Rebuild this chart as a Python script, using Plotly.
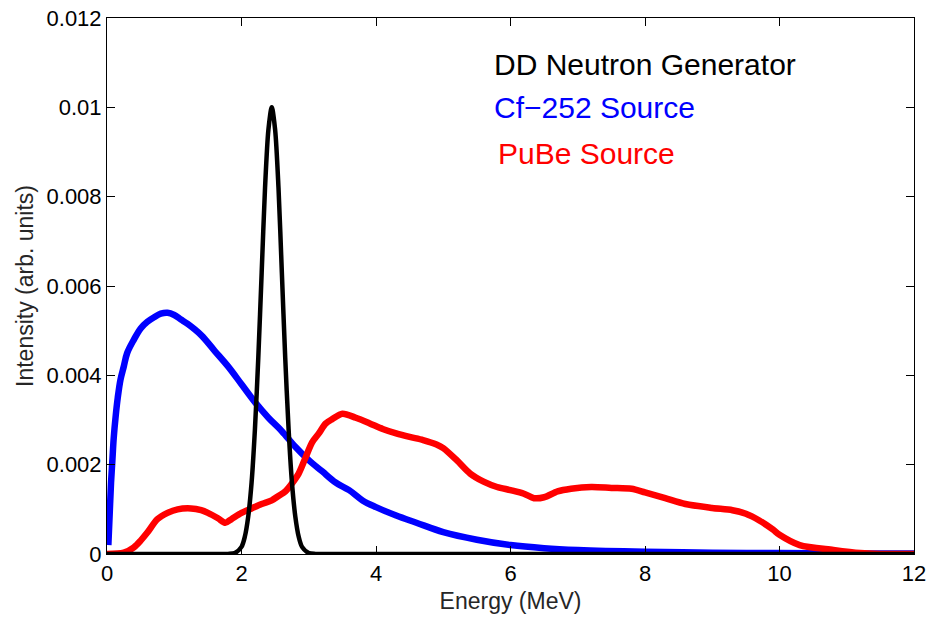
import plotly.graph_objects as go

# Cf-252 source spectrum
cf_energy = [0.02, 0.04, 0.06, 0.08, 0.1, 0.13, 0.16, 0.2, 0.25, 0.3, 0.4, 0.5, 0.6, 0.7,
             0.8, 0.9, 1.0, 1.1, 1.2, 1.4, 1.6, 1.8, 2.0, 2.2, 2.4, 2.6, 2.8, 3.0, 3.2,
             3.4, 3.6, 3.8, 4.0, 4.3, 4.6, 5.0, 5.5, 6.0, 6.5, 7.0, 8.0, 9.0, 10.0, 11.0,
             12.0]
cf_intensity = [0.0002, 0.0009, 0.0016, 0.0021, 0.0026, 0.0031, 0.0035, 0.0039, 0.0042,
                0.0045, 0.0048, 0.00505, 0.0052, 0.0053, 0.00538, 0.0054, 0.00535,
                0.00525, 0.00515, 0.0049, 0.00455, 0.0042, 0.0038, 0.0034, 0.00305,
                0.00275, 0.0024, 0.0021, 0.00185, 0.0016, 0.00143, 0.0012, 0.00105,
                0.00086, 0.0007, 0.00049, 0.00032, 0.0002, 0.00013, 0.00009, 0.00005,
                0.00003, 0.00002, 0.00001, 0.00001]

# PuBe source spectrum
pube_energy = [0, 0.25, 0.4, 0.5, 0.6, 0.75, 0.9, 1.05, 1.25, 1.4, 1.5, 1.65, 1.76,
               1.85, 2.0, 2.15, 2.3, 2.45, 2.55, 2.65, 2.75, 2.85, 2.95, 3.05, 3.15,
               3.25, 3.35, 3.5, 3.7, 3.9, 4.1, 4.3, 4.5, 4.7, 4.9, 5.0, 5.2, 5.4, 5.6,
               5.8, 6.0, 6.2, 6.35, 6.5, 6.7, 6.9, 7.2, 7.5, 7.8, 8.0, 8.3, 8.6, 9.0,
               9.3, 9.5, 9.7, 9.9, 10.0, 10.3, 10.8, 11.2, 11.5, 12]
pube_intensity = [0, 0.00003, 0.00015, 0.0003, 0.00048, 0.00078, 0.00092, 0.001,
                  0.00102, 0.00098, 0.00092, 0.0008, 0.0007, 0.00078, 0.00092, 0.00102,
                  0.00112, 0.0012, 0.0013, 0.0014, 0.00158, 0.0018, 0.00215, 0.0025,
                  0.0027, 0.00292, 0.00302, 0.00314, 0.00305, 0.00293, 0.0028, 0.0027,
                  0.00262, 0.00255, 0.00245, 0.00237, 0.0021, 0.0018, 0.00162, 0.0015,
                  0.00143, 0.00135, 0.00125, 0.00127, 0.0014, 0.00146, 0.0015, 0.00148,
                  0.00146, 0.00138, 0.00125, 0.00112, 0.00103, 0.00098, 0.0009,
                  0.00075, 0.00055, 0.00043, 0.0002, 0.00009, 0.00002, 0.0, 0]

# DD neutron generator
dd_energy = [0, 1.7, 1.8, 1.9, 2.0, 2.05, 2.1, 2.15, 2.2, 2.25, 2.3, 2.35, 2.4, 2.45,
             2.5, 2.55, 2.6, 2.65, 2.7, 2.75, 2.8, 2.85, 2.9, 3.0, 3.1, 3.2, 12]
dd_intensity = [0, 0, 0.000002, 0.000022, 0.00016, 0.00039, 0.00084, 0.0016, 0.0028,
                0.0044, 0.0063, 0.0082, 0.0095, 0.01, 0.0095, 0.0082, 0.0063, 0.0044,
                0.0028, 0.0016, 0.00084, 0.00039, 0.00016, 0.000022, 0.000002, 0, 0]

x_ticks = [0, 2, 4, 6, 8, 10, 12]
y_ticks = [0, 0.002, 0.004, 0.006, 0.008, 0.01, 0.012]
y_tick_text = ["0", "0.002", "0.004", "0.006", "0.008", "0.01", "0.012"]

FONT = "Liberation Sans, Arial, Helvetica, sans-serif"

fig = go.Figure()
fig.add_trace(go.Scatter(x=cf_energy, y=cf_intensity, mode="lines",
                         line=dict(color="#0000ff", width=6.5, shape="spline", smoothing=1.0),
                         name="Cf-252 Source"))
fig.add_trace(go.Scatter(x=pube_energy, y=pube_intensity, mode="lines",
                         line=dict(color="#ff0000", width=6.5, shape="spline", smoothing=0.8),
                         name="PuBe Source"))
fig.add_trace(go.Scatter(x=dd_energy, y=dd_intensity, mode="lines",
                         line=dict(color="#000000", width=4.5, shape="spline", smoothing=0.8),
                         name="DD Neutron Generator"))

fig.add_annotation(x=5.72, y=0.01095, text="DD Neutron Generator", showarrow=False,
                   xanchor="left", yanchor="middle",
                   font=dict(family=FONT, size=30, color="#000000"))
fig.add_annotation(x=5.72, y=0.01000, text="Cf\u2212252 Source", showarrow=False,
                   xanchor="left", yanchor="middle",
                   font=dict(family=FONT, size=30, color="#0000ff"))
fig.add_annotation(x=5.78, y=0.00896, text="PuBe Source", showarrow=False,
                   xanchor="left", yanchor="middle",
                   font=dict(family=FONT, size=30, color="#ff0000"))

axis_common = dict(showline=True, linecolor="black", linewidth=1, mirror="ticks",
                   ticks="inside", ticklen=8, tickcolor="black", tickwidth=1,
                   showgrid=False, zeroline=False, automargin=False,
                   ticklabeloverflow="allow",
                   tickfont=dict(family=FONT, size=22, color="black"))

fig.update_xaxes(range=[0, 12], tickvals=x_ticks,
                 title=dict(text="Energy (MeV)", standoff=7,
                            font=dict(family=FONT, size=23, color="#262626")),
                 **axis_common)
fig.update_yaxes(range=[0, 0.012], tickvals=y_ticks, ticktext=y_tick_text,
                 title=dict(text="Intensity (arb. units)", standoff=6,
                            font=dict(family=FONT, size=23, color="#262626")),
                 **axis_common)

fig.update_layout(width=932, height=619, margin=dict(l=107, r=18, t=18, b=65),
                  paper_bgcolor="white", plot_bgcolor="white", showlegend=False,
                  font=dict(family=FONT))

# remove the default page margin so the figure fills the window exactly
fig.write_html("out.html",
               config={"displayModeBar": False},
               post_script="document.body.style.margin='0px';"
                           "document.body.style.overflow='hidden';")
